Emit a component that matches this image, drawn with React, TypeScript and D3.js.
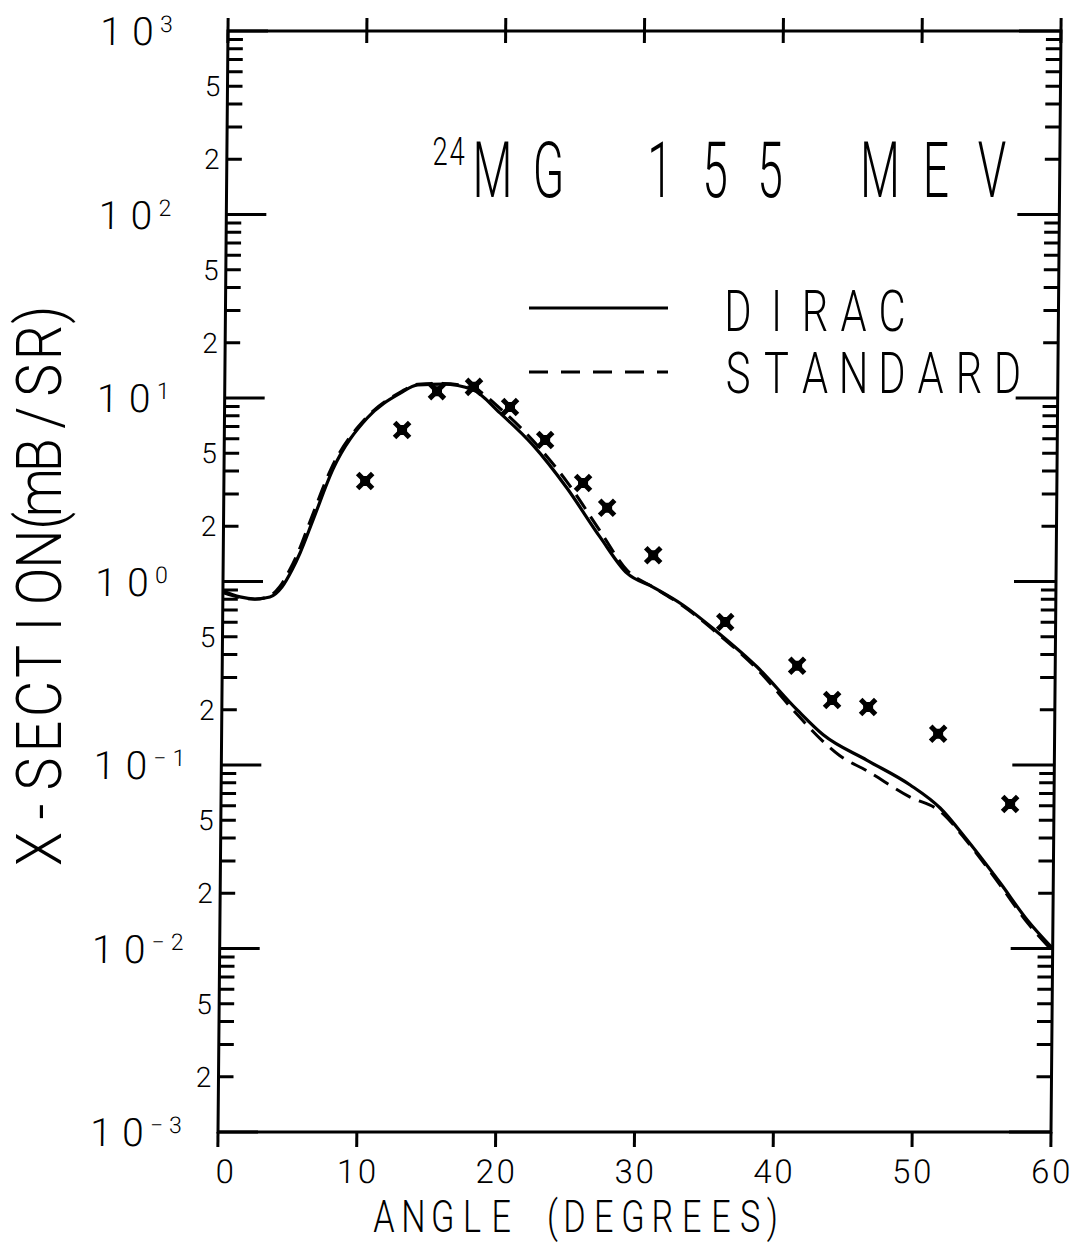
import React from 'react';
import * as d3 from 'd3';

// ---------- data ----------
const DEG_TICKS = [0, 10, 20, 30, 40, 50, 60];
const DECADES = [-3, -2, -1, 0, 1, 2, 3];
const MINOR_LABELS = [2, 5];

const diracAngles = [0, 1.23, 2.32, 3.39, 4.25, 4.96, 5.53, 6.44, 7.85, 10.28, 12.62, 13.91, 15.71, 17.87, 19.83, 22.22, 24.71, 27.12, 29.09, 30.97, 33.14, 35.63, 38.53, 41.44, 43.33, 46.51, 49.63, 51.8, 53.77, 56.17, 58.15, 60];
const diracValues = [0.887, 0.824, 0.803, 0.824, 0.933, 1.155, 1.43, 2.16, 4.1, 7.78, 10.6, 11.8, 11.9, 11.1, 8.3, 5.55, 3.23, 1.75, 1.11, 0.933, 0.745, 0.531, 0.342, 0.1995, 0.146, 0.106, 0.0778, 0.0583, 0.039, 0.0228, 0.0143, 0.01];

const standardAngles = [0, 1.2, 2.3, 3.3, 4.1, 4.8, 5.4, 6.3, 7.7, 10.2, 12.6, 13.9, 15.7, 17.9, 19.9, 22.2, 24.7, 27.1, 29.1, 31.0, 33.1, 35.6, 38.5, 41.4, 43.3, 44.5, 46.5, 49.6, 51.8, 53.8, 56.2, 58.2, 60];
const standardValues = [0.87, 0.82, 0.8, 0.83, 0.94, 1.16, 1.45, 2.2, 4.1, 7.8, 10.7, 11.9, 12.0, 11.3, 8.7, 5.9, 3.5, 1.9, 1.15, 0.93, 0.74, 0.525, 0.335, 0.19, 0.135, 0.113, 0.093, 0.067, 0.056, 0.038, 0.022, 0.0137, 0.0097];

const expAngles = [10.17, 12.8, 15.29, 17.95, 20.56, 23.11, 25.87, 27.62, 30.97, 36.2, 41.41, 43.95, 46.55, 51.61, 56.84];
const expValues = [3.53, 6.7, 10.9, 11.5, 8.93, 5.9, 3.44, 2.52, 1.39, 0.601, 0.347, 0.226, 0.207, 0.148, 0.0613];

const TITLE_NUCLEUS = '24';
const TITLE_WORDS = ['MG', '155', 'MEV'];
const LEGEND_LABELS = ['DIRAC', 'STANDARD'];
const Y_LABEL = 'X-SECTION(mB/SR)';
const X_LABEL = 'ANGLE (DEGREES)';

// ---------- layout ----------
const W = 1075, H = 1245;
const FONT = "Roboto, 'DejaVu Sans', sans-serif";
const x = d3.scaleLinear().domain([0, 60]).range([223, 1056]);
const y = d3.scaleLog().domain([1e-3, 1e3]).range([1132, 31]);
const X0 = x.range()[0], X1 = x.range()[1];
const Y0 = y.range()[1], Y1 = y.range()[0];

const lineGen = d3.line<[number, number]>()
  .x(d => x(d[0]))
  .y(d => y(d[1]))
  .curve(d3.curveMonotoneX);

const diracPath = lineGen(diracAngles.map((a, i) => [a, diracValues[i]] as [number, number])) || '';
const standardPath = lineGen(standardAngles.map((a, i) => [a, standardValues[i]] as [number, number])) || '';

type MonoProps = { text: string; x0: number; y0: number; pitch: number; size: number; sx?: number; vertical?: boolean };
function Mono({ text, x0, y0, pitch, size, sx = 1, vertical = false }: MonoProps) {
  let cum = 0;
  const items: React.ReactNode[] = [];
  Array.from(text).forEach((ch, i) => {
    const w = ch === '(' || ch === ')' ? 0.5 : 1;
    const c = cum + w / 2;
    cum += w;
    if (ch === ' ') return;
    const cx = vertical ? x0 : x0 + c * pitch;
    const cy = vertical ? y0 - c * pitch : y0;
    const tr = vertical
      ? `translate(${cx},${cy}) rotate(-90) scale(${sx},1)`
      : `translate(${cx},${cy}) scale(${sx},1)`;
    items.push(
      <text key={i} transform={tr} textAnchor="middle" fontSize={size}>{ch}</text>
    );
  });
  return <g>{items}</g>;
}

function Cross({ cx, cy }: { cx: number; cy: number }) {
  const a = 7.5;
  return (
    <g>
      <rect x={cx - 5} y={cy - 5} width={10} height={10} fill="#000" />
      <path d={`M${cx - a},${cy - a}L${cx + a},${cy + a}M${cx - a},${cy + a}L${cx + a},${cy - a}`} stroke="#000" strokeWidth={5} />
    </g>
  );
}

export default function App() {
  const minorTicks: number[] = [];
  for (let d = -3; d <= 2; d++) for (let k = 2; k <= 9; k++) minorTicks.push(k * Math.pow(10, d));
  const minorLabelVals: { v: number; k: number }[] = [];
  for (let d = -3; d <= 2; d++) MINOR_LABELS.forEach(k => minorLabelVals.push({ v: k * Math.pow(10, d), k }));

  return (
    <svg width={W} height={H} style={{ position: 'absolute', left: 0, top: 0, background: '#fff' }} fontFamily={FONT} fontWeight={300}>
      <rect x={0} y={0} width={W} height={H} fill="#fff" />
      {/* skewed plot group reproducing the slight shear of the scan */}
      <g transform="translate(5.28,0) skewX(-0.52)">
        <rect x={X0} y={Y0} width={X1 - X0} height={Y1 - Y0} fill="none" stroke="#000" strokeWidth={3} />
        {DEG_TICKS.map(t => (
          <g key={'xt' + t}>
            <line x1={x(t)} x2={x(t)} y1={Y0 - 13} y2={Y0 + 12} stroke="#000" strokeWidth={3} />
            <line x1={x(t)} x2={x(t)} y1={Y1} y2={Y1 + 15} stroke="#000" strokeWidth={3} />
            {String(t).length === 1
              ? <Mono text={String(t)} x0={x(t) + 7 - 10.5} y0={1183} pitch={21} size={33} />
              : <Mono text={String(t)} x0={x(t) - 21} y0={1183} pitch={21} size={33} />}
          </g>
        ))}
        {DECADES.map(d => (
          <g key={'yd' + d}>
            <line x1={X0} x2={X0 + 40} y1={y(Math.pow(10, d))} y2={y(Math.pow(10, d))} stroke="#000" strokeWidth={3} />
            <line x1={X1} x2={X1 - 42} y1={y(Math.pow(10, d))} y2={y(Math.pow(10, d))} stroke="#000" strokeWidth={3} />
            <Mono text="10" x0={90} y0={y(Math.pow(10, d)) + 14} pitch={32} size={39} />
            <Mono text={d < 0 ? '\u2212' + Math.abs(d) : String(d)} x0={152} y0={y(Math.pow(10, d)) + 1} pitch={19} size={23} />
          </g>
        ))}
        {minorTicks.map((v, i) => (
          <g key={'ym' + i}>
            <line x1={X0} x2={X0 + 15} y1={y(v)} y2={y(v)} stroke="#000" strokeWidth={3} />
            <line x1={X1} x2={X1 - 15} y1={y(v)} y2={y(v)} stroke="#000" strokeWidth={3} />
          </g>
        ))}
        {minorLabelVals.map((m, i) => (
          <Mono key={'ml' + i} text={String(m.k)} x0={199} y0={y(m.v) + 10} pitch={18} size={28} />
        ))}
        <path d={diracPath} fill="none" stroke="#000" strokeWidth={3.2} />
        <path d={standardPath} fill="none" stroke="#000" strokeWidth={3} strokeDasharray="17,9" />
        {expAngles.map((a, i) => (
          <Cross key={'e' + i} cx={x(a)} cy={y(expValues[i])} />
        ))}
      </g>

      {/* title */}
      <Mono text={TITLE_NUCLEUS} x0={431.5} y0={165} pitch={17} size={38} sx={0.72} />
      <Mono text={TITLE_WORDS[0]} x0={464.5} y0={197} pitch={56} size={77} sx={0.6} />
      <Mono text={TITLE_WORDS[1]} x0={632.5} y0={197} pitch={55} size={77} sx={0.6} />
      <Mono text={TITLE_WORDS[2]} x0={852} y0={197} pitch={56} size={77} sx={0.6} />

      {/* legend */}
      <line x1={529} x2={668} y1={308} y2={308} stroke="#000" strokeWidth={3} />
      <line x1={529} x2={668} y1={372} y2={372} stroke="#000" strokeWidth={3} strokeDasharray="19,13" />
      <Mono text={LEGEND_LABELS[0]} x0={718.75} y0={331} pitch={38.5} size={58} sx={0.72} />
      <Mono text={LEGEND_LABELS[1]} x0={718.75} y0={393} pitch={38.5} size={58} sx={0.72} />

      {/* axis labels */}
      <Mono text={Y_LABEL} x0={61} y0={867.75} pitch={37.5} size={63} sx={0.88} vertical />
      <Mono text={X_LABEL} x0={369.35} y0={1232} pitch={29.3} size={45} sx={0.76} />
    </svg>
  );
}
